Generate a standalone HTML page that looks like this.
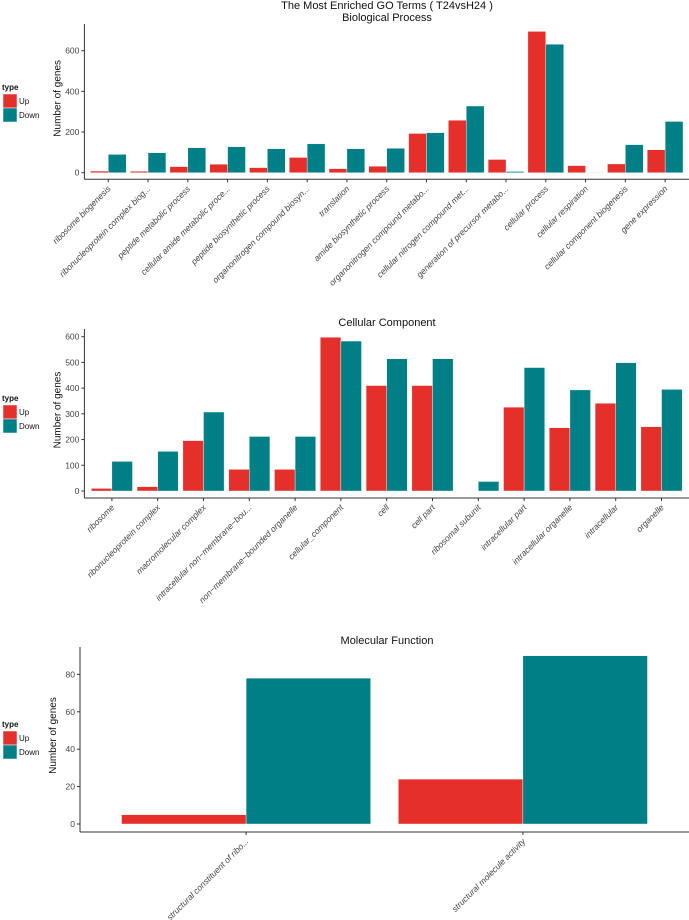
<!DOCTYPE html>
<html><head><meta charset="utf-8"><style>
html,body{margin:0;padding:0;background:#fff;}
svg{display:block;font-family:"Liberation Sans",sans-serif;}
</style></head><body>
<svg id="chart" width="689" height="920" viewBox="0 0 689 920">
<text x="387" y="9" text-anchor="middle" font-size="11" fill="#111">The Most Enriched GO Terms ( T24vsH24 )</text>
</svg>
<script>
const bpCategories = ["ribosome biogenesis","ribonucleoprotein complex biog...","peptide metabolic process","cellular amide metabolic proce...","peptide biosynthetic process","organonitrogen compound biosyn...","translation","amide biosynthetic process","organonitrogen compound metabo...","cellular nitrogen compound met...","generation of precursor metabo...","cellular process","cellular respiration","cellular component biogenesis","gene expression"];
const bpUp = [8,7,30,42,25,75,20,32,193,258,65,695,35,43,113];
const bpDown = [90,98,123,128,118,142,118,120,197,328,6,632,2,138,252];
const bpTicks = [0,200,400,600];

const ccCategories = ["ribosome","ribonucleoprotein complex","macromolecular complex","intracellular non\u2212membrane\u2212bou...","non\u2212membrane\u2212bounded organelle","cellular_component","cell","cell part","ribosomal subunit","intracellular part","intracellular organelle","intracellular","organelle"];
const ccUp = [10,17,196,84,84,598,410,410,0,326,246,341,250];
const ccDown = [115,154,307,212,212,583,514,514,37,480,393,499,395];
const ccTicks = [0,100,200,300,400,500,600];

const mfCategories = ["structural constituent of ribo...","structural molecule activity"];
const mfUp = [5,24];
const mfDown = [78,90];
const mfTicks = [0,20,40,60,80];

const NS="http://www.w3.org/2000/svg";
const svg=document.getElementById('chart');
function mk(tag,attrs,parent){const e=document.createElementNS(NS,tag);for(const k in attrs)e.setAttribute(k,attrs[k]);(parent||svg).appendChild(e);return e;}

function panel(o){
  const g=mk('g',{});
  
  
  const n=o.cats.length;
  const step=(o.right-o.axisX)/(n+0.2);
  const xc=i=>o.axisX+step*(0.6+i);
  const y=v=>o.zeroY-(v)*o.pxPerUnit;
  const t=mk('text',{x:387,y:o.titleY,'text-anchor':'middle','font-size':11,fill:'#111'},g);
  t.textContent=o.title;
  
  
  const ya=mk('line',{x1:o.axisX,x2:o.axisX,y1:o.axisTop,y2:o.xAxisY,stroke:'#333','stroke-width':1},g);
  
  
  const xa=mk('line',{x1:o.axisX,x2:689,y1:o.xAxisY,y2:o.xAxisY,stroke:'#333','stroke-width':1},g);
  
  
  o.ticks.forEach(v=>{
    mk('line',{x1:o.axisX-3,x2:o.axisX,y1:y(v),y2:y(v),stroke:'#333'},g);
    const tl=mk('text',{x:o.axisX-5,y:y(v)+3,'text-anchor':'end','font-size':8.5,fill:'#444'},g);
    tl.textContent=v;
    
    
  });
  const yl=mk('text',{x:0,y:0,'text-anchor':'middle','font-size':10,fill:'#111',transform:`translate(${o.axisX-24},${(o.axisTop+o.zeroY)/2}) rotate(-90)`},g);
  yl.textContent='Number of genes';
  
  
  const bw=step*0.45;
  o.cats.forEach((c,i)=>{
    const cx=xc(i);
    [[o.up[i],'#E42F2A',cx-bw,'up'],[o.down[i],'#007F86',cx,'down']].forEach(([v,col,x0,s])=>{
      if(v<=0)return;
      const r=mk('rect',{x:x0,y:y(v),width:bw,height:v*o.pxPerUnit,fill:col,stroke:'#fff','stroke-width':0.4},g);
      
      
    });
    mk('line',{x1:cx,x2:cx,y1:o.xAxisY,y2:o.xAxisY+3,stroke:'#333'},g);
    const tx=mk('text',{x:0,y:0,'text-anchor':'end','font-size':8.5,fill:'#444','font-style':'italic',transform:`translate(${cx+3},${o.xAxisY+10}) rotate(-45)`},g);
    tx.textContent=c;
    
    
  });
  const lg=mk('g',{},g);
  
  
  const lt=mk('text',{x:2,y:o.legendY,'font-size':8,'font-weight':'bold',fill:'#111'},lg);
  lt.textContent='type';
  [['Up','#E42F2A'],['Down','#007F86']].forEach(([lab,col],k)=>{
    const by=o.legendY+4+k*14;
    const b=mk('rect',{x:3,y:by,width:14,height:14,fill:col,stroke:'#fff','stroke-width':0.5},lg);
    
    
    const tt=mk('text',{x:19,y:by+10,'font-size':8,fill:'#111'},lg);
    tt.textContent=lab;
    
    
  });
}
panel({name:'bp',title:'Biological Process',titleY:21,cats:bpCategories,up:bpUp,down:bpDown,ticks:bpTicks,axisX:84.4,right:689,zeroY:172.7,pxPerUnit:0.2033,axisTop:24,xAxisY:179.3,legendY:90});
panel({name:'cc',title:'Cellular Component',titleY:326,cats:ccCategories,up:ccUp,down:ccDown,ticks:ccTicks,axisX:84.4,right:689,zeroY:491,pxPerUnit:0.2572,axisTop:329,xAxisY:498,legendY:401});
panel({name:'mf',title:'Molecular Function',titleY:644,cats:mfCategories,up:mfUp,down:mfDown,ticks:mfTicks,axisX:80,right:689,zeroY:824,pxPerUnit:1.87,axisTop:647,xAxisY:832,legendY:727});
</script>
</body></html>
